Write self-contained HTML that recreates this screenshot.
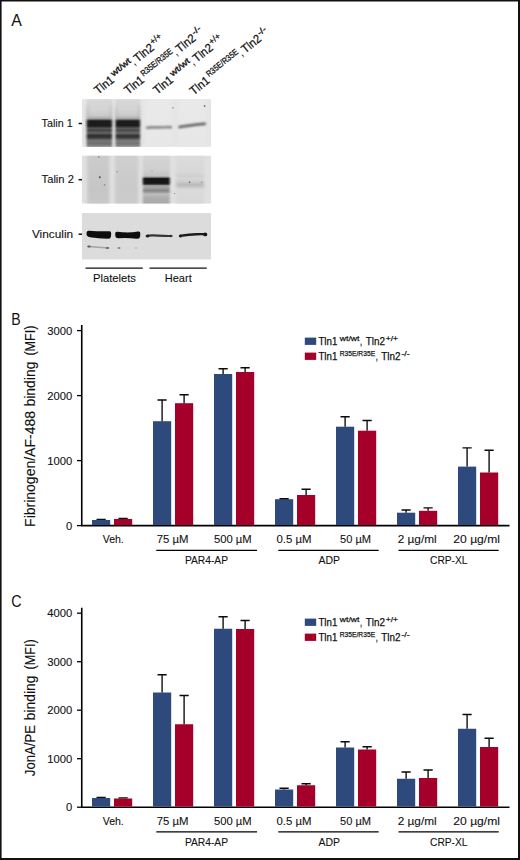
<!DOCTYPE html>
<html><head><meta charset="utf-8"><title>Figure</title>
<style>
html,body{margin:0;padding:0;background:#fff;}
body{width:520px;height:860px;overflow:hidden;font-family:"Liberation Sans",sans-serif;}
svg{display:block;font-family:"Liberation Sans",sans-serif;fill:#111;}
text{stroke:#111;stroke-width:0.1px;}
.rl text{stroke-width:0.25px;}
text.pl{stroke-width:0;}
.rl text.sp{stroke-width:0.3px;}
</style></head><body>
<svg width="520" height="860" viewBox="0 0 520 860">
<rect x="0" y="0" width="520" height="860" fill="#fff"/>
<defs>
<filter id="b1" x="-20%" y="-100%" width="140%" height="300%"><feGaussianBlur stdDeviation="0.9 0.9"/></filter>
<filter id="b2" x="-20%" y="-100%" width="140%" height="300%"><feGaussianBlur stdDeviation="1.4 1.3"/></filter>
<filter id="b3" x="-20%" y="-50%" width="140%" height="200%"><feGaussianBlur stdDeviation="1.6 2.2"/></filter>
<filter id="b07" x="-20%" y="-100%" width="140%" height="300%"><feGaussianBlur stdDeviation="0.7 0.65"/></filter>
<filter id="b05" x="-20%" y="-100%" width="140%" height="300%"><feGaussianBlur stdDeviation="0.6 0.6"/></filter>
<clipPath id="c1"><rect x="82" y="99.2" width="129" height="47.6"/></clipPath>
<clipPath id="c2"><rect x="82" y="155.8" width="129" height="47.6"/></clipPath>
<clipPath id="c3"><rect x="82" y="213" width="129" height="46.4"/></clipPath>
</defs>
<text x="11.2" y="26.1" font-size="17.3" textLength="10.6" lengthAdjust="spacingAndGlyphs" class="pl">A</text>
<g class="rl" transform="translate(98.3 94.8) rotate(-39)">
<text x="0" y="0" font-size="12" textLength="21.4" lengthAdjust="spacingAndGlyphs" >Tln1</text>
<text x="23.2" y="-4.6" font-size="8.6" textLength="23.3" lengthAdjust="spacingAndGlyphs" class="sp">wt/wt</text>
<text x="46.7" y="0" font-size="12" textLength="2.3" lengthAdjust="spacingAndGlyphs" >,</text>
<text x="50.9" y="0" font-size="12" textLength="21.8" lengthAdjust="spacingAndGlyphs" >Tln2</text>
<text x="73.4" y="-4.6" font-size="8.6" textLength="12.5" lengthAdjust="spacingAndGlyphs" class="sp">+/+</text>
</g>
<g class="rl" transform="translate(128.3 94.8) rotate(-39)">
<text x="0" y="0" font-size="12" textLength="21.4" lengthAdjust="spacingAndGlyphs" >Tln1</text>
<text x="23.2" y="-4.6" font-size="8.6" textLength="38.5" lengthAdjust="spacingAndGlyphs" class="sp">R35E/R35E</text>
<text x="61.900000000000006" y="0" font-size="12" textLength="2.3" lengthAdjust="spacingAndGlyphs" >,</text>
<text x="66.10000000000001" y="0" font-size="12" textLength="21.8" lengthAdjust="spacingAndGlyphs" >Tln2</text>
<text x="88.6" y="-4.6" font-size="8.6" textLength="9.5" lengthAdjust="spacingAndGlyphs" class="sp">-/-</text>
</g>
<g class="rl" transform="translate(157.3 94.8) rotate(-39)">
<text x="0" y="0" font-size="12" textLength="21.4" lengthAdjust="spacingAndGlyphs" >Tln1</text>
<text x="23.2" y="-4.6" font-size="8.6" textLength="23.3" lengthAdjust="spacingAndGlyphs" class="sp">wt/wt</text>
<text x="46.7" y="0" font-size="12" textLength="2.3" lengthAdjust="spacingAndGlyphs" >,</text>
<text x="50.9" y="0" font-size="12" textLength="21.8" lengthAdjust="spacingAndGlyphs" >Tln2</text>
<text x="73.4" y="-4.6" font-size="8.6" textLength="12.5" lengthAdjust="spacingAndGlyphs" class="sp">+/+</text>
</g>
<g class="rl" transform="translate(193.8 95.4) rotate(-39)">
<text x="0" y="0" font-size="12" textLength="21.4" lengthAdjust="spacingAndGlyphs" >Tln1</text>
<text x="23.2" y="-4.6" font-size="8.6" textLength="38.5" lengthAdjust="spacingAndGlyphs" class="sp">R35E/R35E</text>
<text x="61.900000000000006" y="0" font-size="12" textLength="2.3" lengthAdjust="spacingAndGlyphs" >,</text>
<text x="66.10000000000001" y="0" font-size="12" textLength="21.8" lengthAdjust="spacingAndGlyphs" >Tln2</text>
<text x="88.6" y="-4.6" font-size="8.6" textLength="9.5" lengthAdjust="spacingAndGlyphs" class="sp">-/-</text>
</g>
<text x="41.6" y="127" font-size="11.8" textLength="31.1" lengthAdjust="spacingAndGlyphs" >Talin 1</text>
<path d="M78.6 123.5 H82.2" stroke="#111" stroke-width="1.5"/>
<text x="41.6" y="183.4" font-size="11.8" textLength="32.3" lengthAdjust="spacingAndGlyphs" >Talin 2</text>
<path d="M78.6 179.7 H82.2" stroke="#111" stroke-width="1.5"/>
<text x="31.9" y="238" font-size="11.8" textLength="41.3" lengthAdjust="spacingAndGlyphs" >Vinculin</text>
<path d="M78.6 234.2 H82.2" stroke="#111" stroke-width="1.5"/>
<defs><filter id="bl" x="-20%" y="-5%" width="140%" height="110%"><feGaussianBlur stdDeviation="1.1 0.75"/></filter><filter id="bl2" x="-20%" y="-5%" width="140%" height="110%"><feGaussianBlur stdDeviation="1.8 0.5"/></filter></defs>
<g clip-path="url(#c1)">
<rect x="82" y="99" width="129" height="48" fill="#e5e5e5"/>
<linearGradient id="g1" gradientUnits="userSpaceOnUse" x1="0" y1="97" x2="0" y2="149"><stop offset="0.0000" stop-color="#d8d8d8"/><stop offset="0.2500" stop-color="#d4d4d4"/><stop offset="0.3654" stop-color="#c8c8c8"/><stop offset="0.4192" stop-color="#a0a0a0"/><stop offset="0.4462" stop-color="#3c3c3c"/><stop offset="0.4692" stop-color="#1a1a1a"/><stop offset="0.5538" stop-color="#1a1a1a"/><stop offset="0.5808" stop-color="#3c3c3c"/><stop offset="0.6038" stop-color="#545454"/><stop offset="0.6231" stop-color="#4c4c4c"/><stop offset="0.6404" stop-color="#444444"/><stop offset="0.6615" stop-color="#505050"/><stop offset="0.6923" stop-color="#646464"/><stop offset="0.7173" stop-color="#484848"/><stop offset="0.7404" stop-color="#323232"/><stop offset="0.7692" stop-color="#303030"/><stop offset="0.7962" stop-color="#4a4a4a"/><stop offset="0.8231" stop-color="#6a6a6a"/><stop offset="0.8558" stop-color="#767676"/><stop offset="0.8904" stop-color="#6e6e6e"/><stop offset="0.9231" stop-color="#7c7c7c"/><stop offset="1.0000" stop-color="#8c8c8c"/></linearGradient>
<rect x="86.6" y="97" width="25.6" height="52" fill="url(#g1)" filter="url(#bl)"/>
<linearGradient id="g2" gradientUnits="userSpaceOnUse" x1="0" y1="97" x2="0" y2="149"><stop offset="0.0000" stop-color="#d8d8d8"/><stop offset="0.2500" stop-color="#d4d4d4"/><stop offset="0.3654" stop-color="#c8c8c8"/><stop offset="0.4192" stop-color="#a0a0a0"/><stop offset="0.4462" stop-color="#414141"/><stop offset="0.4692" stop-color="#1f1f1f"/><stop offset="0.5538" stop-color="#1f1f1f"/><stop offset="0.5808" stop-color="#414141"/><stop offset="0.6038" stop-color="#595959"/><stop offset="0.6231" stop-color="#515151"/><stop offset="0.6404" stop-color="#494949"/><stop offset="0.6615" stop-color="#555555"/><stop offset="0.6923" stop-color="#696969"/><stop offset="0.7173" stop-color="#4d4d4d"/><stop offset="0.7404" stop-color="#373737"/><stop offset="0.7692" stop-color="#353535"/><stop offset="0.7962" stop-color="#4f4f4f"/><stop offset="0.8231" stop-color="#6f6f6f"/><stop offset="0.8558" stop-color="#7b7b7b"/><stop offset="0.8904" stop-color="#737373"/><stop offset="0.9231" stop-color="#818181"/><stop offset="1.0000" stop-color="#919191"/></linearGradient>
<rect x="115.4" y="97" width="24.8" height="52" fill="url(#g2)" filter="url(#bl)"/>
<g filter="url(#b3)" opacity="0.55">
<rect x="86.7" y="106" width="1.6" height="14" fill="#a8a8a8"/>
<rect x="110.2" y="106" width="1.6" height="14" fill="#a8a8a8"/>
<rect x="115.5" y="106" width="1.6" height="14" fill="#a8a8a8"/>
<rect x="138.5" y="106" width="1.6" height="14" fill="#a8a8a8"/>
</g>
<linearGradient id="g3" gradientUnits="userSpaceOnUse" x1="0" y1="97" x2="0" y2="149"><stop offset="0.0000" stop-color="#e9e9e9"/><stop offset="1.0000" stop-color="#e7e7e7"/></linearGradient>
<rect x="145" y="97" width="27" height="52" fill="url(#g3)" filter="url(#bl2)"/>
<linearGradient id="g4" gradientUnits="userSpaceOnUse" x1="0" y1="97" x2="0" y2="149"><stop offset="0.0000" stop-color="#e9e9e9"/><stop offset="1.0000" stop-color="#e7e7e7"/></linearGradient>
<rect x="178" y="97" width="28" height="52" fill="url(#g4)" filter="url(#bl2)"/>
<g filter="url(#b1)">
<path d="M146.2 128 Q147.5 127.2 152 127.3 Q162 127.6 170.5 127 L171.6 127.8" stroke="#747474" stroke-width="2.2" fill="none"/>
<path d="M178.6 127.6 Q180 126.6 184 126.2 Q196 124.6 204.5 123.8 L205.6 124.6" stroke="#5c5c5c" stroke-width="2.5" fill="none"/>
</g>
<g filter="url(#b05)"><circle cx="172.9" cy="107.8" r="0.8" fill="#888"/><circle cx="204.6" cy="106" r="0.9" fill="#777"/></g>
</g>
<g clip-path="url(#c2)">
<rect x="82" y="155" width="129" height="49" fill="#e0e0e0"/>
<linearGradient id="g5" gradientUnits="userSpaceOnUse" x1="0" y1="154" x2="0" y2="205"><stop offset="0.0000" stop-color="#cccccc"/><stop offset="0.4118" stop-color="#c8c8c8"/><stop offset="0.7059" stop-color="#c6c6c6"/><stop offset="1.0000" stop-color="#c8c8c8"/></linearGradient>
<rect x="87.2" y="154" width="22.2" height="51" fill="url(#g5)" filter="url(#bl2)"/>
<linearGradient id="g6" gradientUnits="userSpaceOnUse" x1="0" y1="154" x2="0" y2="205"><stop offset="0.0000" stop-color="#d0d0d0"/><stop offset="0.4118" stop-color="#cbcbcb"/><stop offset="0.7059" stop-color="#cacaca"/><stop offset="1.0000" stop-color="#cccccc"/></linearGradient>
<rect x="115" y="154" width="23.2" height="51" fill="url(#g6)" filter="url(#bl2)"/>
<linearGradient id="g7" gradientUnits="userSpaceOnUse" x1="0" y1="154" x2="0" y2="205"><stop offset="0.0000" stop-color="#d6d6d6"/><stop offset="0.3137" stop-color="#cecece"/><stop offset="0.4216" stop-color="#c4c4c4"/><stop offset="0.4549" stop-color="#969696"/><stop offset="0.4745" stop-color="#222222"/><stop offset="0.4941" stop-color="#121212"/><stop offset="0.5686" stop-color="#121212"/><stop offset="0.5941" stop-color="#3c3c3c"/><stop offset="0.6176" stop-color="#969696"/><stop offset="0.6471" stop-color="#aaaaaa"/><stop offset="0.6863" stop-color="#969696"/><stop offset="0.7157" stop-color="#888888"/><stop offset="0.7451" stop-color="#969696"/><stop offset="0.7843" stop-color="#bebebe"/><stop offset="0.8137" stop-color="#b8b8b8"/><stop offset="0.8627" stop-color="#aeaeae"/><stop offset="1.0000" stop-color="#a8a8a8"/></linearGradient>
<rect x="142.8" y="154" width="27.0" height="51" fill="url(#g7)" filter="url(#bl)"/>
<linearGradient id="g8" gradientUnits="userSpaceOnUse" x1="0" y1="154" x2="0" y2="205"><stop offset="0.0000" stop-color="#dcdcdc"/><stop offset="0.3529" stop-color="#d8d8d8"/><stop offset="0.4314" stop-color="#d0d0d0"/><stop offset="0.4902" stop-color="#d6d6d6"/><stop offset="0.5490" stop-color="#cccccc"/><stop offset="0.6039" stop-color="#bababa"/><stop offset="0.6471" stop-color="#c8c8c8"/><stop offset="0.6961" stop-color="#dadada"/><stop offset="1.0000" stop-color="#d8d8d8"/></linearGradient>
<rect x="176" y="154" width="28.4" height="51" fill="url(#g8)" filter="url(#bl2)"/>
<g filter="url(#b05)">
<circle cx="99.8" cy="177.2" r="1" fill="#505050"/><circle cx="98.8" cy="157" r="0.8" fill="#777"/><circle cx="104.5" cy="184.9" r="0.8" fill="#8a8a8a"/><circle cx="117" cy="171.8" r="0.8" fill="#999"/><circle cx="189.5" cy="182.3" r="0.8" fill="#555"/><circle cx="201.8" cy="182.3" r="0.7" fill="#888"/><circle cx="152" cy="171" r="0.6" fill="#888"/><circle cx="174.5" cy="193.5" r="0.6" fill="#777"/>
</g></g>
<g clip-path="url(#c3)">
<rect x="82" y="212" width="129" height="48" fill="#dcdcdc"/>
<g filter="url(#b07)">
<path d="M86.6 232.5 Q86.6 230.6 89 230.7 Q99 231.4 109 231.2 Q111.3 231 111.2 233.5 L111 236.5 Q110.6 239 108 238.8 Q98 238.4 90 237.2 Q86.8 236.6 86.6 234.5 Z" fill="#0a0a0a"/>
<path d="M115.2 233.5 Q115.2 231.3 117.5 231.7 Q128 233.4 138 231.6 Q140.4 231.2 140.3 233.5 L140.1 236.5 Q139.8 239 137 238.8 Q128 237.6 118.5 238.2 Q115.6 238.3 115.3 236 Z" fill="#0a0a0a"/>
<path d="M146.6 235.9 Q150 235 158 235.6 T171.6 236" stroke="#343434" stroke-width="2.1" fill="none" stroke-linecap="round"/>
<ellipse cx="147.6" cy="235.9" rx="1.6" ry="1.5" fill="#1e1e1e"/>
<ellipse cx="170.8" cy="236" rx="1.2" ry="1.2" fill="#333"/>
<path d="M180 235.9 Q190 234.4 196 234.2 T206 234.2" stroke="#1c1c1c" stroke-width="2.4" fill="none" stroke-linecap="round"/>
<ellipse cx="205.2" cy="234.4" rx="2" ry="1.9" fill="#141414"/>
<ellipse cx="180.6" cy="236" rx="1.4" ry="1.5" fill="#1c1c1c"/>
<path d="M88 246.4 L108.5 248" stroke="#a4a4a4" stroke-width="1.5" fill="none"/>
<ellipse cx="89" cy="246.5" rx="1.8" ry="1" fill="#5a5a5a"/>
<ellipse cx="107.5" cy="248" rx="1.8" ry="1" fill="#6a6a6a"/>
<ellipse cx="119" cy="248" rx="1.6" ry="0.9" fill="#8a8a8a"/>
<ellipse cx="136" cy="248" rx="1.5" ry="0.8" fill="#bababa"/>
</g></g>
<path d="M85.5 268.2 H142.8" stroke="#111" stroke-width="1.3"/>
<path d="M149.5 268.2 H206.7" stroke="#111" stroke-width="1.3"/>
<text x="92.9" y="282.3" font-size="11.8" textLength="43.1" lengthAdjust="spacingAndGlyphs" >Platelets</text>
<text x="164.8" y="282.3" font-size="11.8" textLength="26.9" lengthAdjust="spacingAndGlyphs" >Heart</text>
<g>
<text x="11.2" y="325" font-size="17.3" textLength="9.4" lengthAdjust="spacingAndGlyphs" class="pl">B</text>
<path d="M81.75 325.1 V525.6 H509.5" fill="none" stroke="#000" stroke-width="1.6"/>
<path d="M77 525.6 H81.75" stroke="#000" stroke-width="1.3"/>
<text x="65.95" y="529.8000000000001" font-size="11.8" textLength="6.25" lengthAdjust="spacingAndGlyphs" >0</text>
<path d="M77 460.6 H81.75" stroke="#000" stroke-width="1.3"/>
<text x="47.2" y="464.8" font-size="11.8" textLength="25.0" lengthAdjust="spacingAndGlyphs" >1000</text>
<path d="M77 395.6 H81.75" stroke="#000" stroke-width="1.3"/>
<text x="47.2" y="399.8" font-size="11.8" textLength="25.0" lengthAdjust="spacingAndGlyphs" >2000</text>
<path d="M77 330.6 H81.75" stroke="#000" stroke-width="1.3"/>
<text x="47.2" y="334.8" font-size="11.8" textLength="25.0" lengthAdjust="spacingAndGlyphs" >3000</text>
<g transform="translate(35.2 526.9) rotate(-90)">
<text x="0" y="0" font-size="14.3" textLength="115.9" lengthAdjust="spacingAndGlyphs" >Fibrinogen/AF-488</text>
<text x="120.4" y="0" font-size="14.3" textLength="45.0" lengthAdjust="spacingAndGlyphs" >binding</text>
<text x="171.3" y="0" font-size="14.3" textLength="30.1" lengthAdjust="spacingAndGlyphs" >(MFI)</text>
</g>
<rect x="92" y="520.0" width="18.2" height="5.0" fill="#2e4a7d"/>
<path d="M101.1 520.0 V519.3000000000001 M96.5 519.3000000000001 H105.69999999999999" stroke="#0a0a0a" stroke-width="1.35" fill="none"/>
<rect x="114" y="519.0" width="18.2" height="6.0" fill="#a50029"/>
<path d="M123.1 519.0 V518.3000000000001 M118.5 518.3000000000001 H127.69999999999999" stroke="#0a0a0a" stroke-width="1.35" fill="none"/>
<rect x="153" y="421.20000000000005" width="18.2" height="103.80000000000001" fill="#2e4a7d"/>
<path d="M162.1 421.20000000000005 V400.0 M157.5 400.0 H166.7" stroke="#0a0a0a" stroke-width="1.35" fill="none"/>
<rect x="175" y="403.20000000000005" width="18.2" height="121.80000000000001" fill="#a50029"/>
<path d="M184.1 403.20000000000005 V394.70000000000005 M179.5 394.70000000000005 H188.7" stroke="#0a0a0a" stroke-width="1.35" fill="none"/>
<rect x="214" y="374.0" width="18.2" height="151.0" fill="#2e4a7d"/>
<path d="M223.1 374.0 V368.70000000000005 M218.5 368.70000000000005 H227.7" stroke="#0a0a0a" stroke-width="1.35" fill="none"/>
<rect x="236" y="372.0" width="18.2" height="153.0" fill="#a50029"/>
<path d="M245.1 372.0 V367.70000000000005 M240.5 367.70000000000005 H249.7" stroke="#0a0a0a" stroke-width="1.35" fill="none"/>
<rect x="275" y="499.20000000000005" width="18.2" height="25.799999999999997" fill="#2e4a7d"/>
<path d="M284.1 499.20000000000005 V498.70000000000005 M279.5 498.70000000000005 H288.70000000000005" stroke="#0a0a0a" stroke-width="1.35" fill="none"/>
<rect x="297" y="495.0" width="18.2" height="30.0" fill="#a50029"/>
<path d="M306.1 495.0 V489.20000000000005 M301.5 489.20000000000005 H310.70000000000005" stroke="#0a0a0a" stroke-width="1.35" fill="none"/>
<rect x="336" y="426.70000000000005" width="18.2" height="98.30000000000001" fill="#2e4a7d"/>
<path d="M345.1 426.70000000000005 V416.70000000000005 M340.5 416.70000000000005 H349.70000000000005" stroke="#0a0a0a" stroke-width="1.35" fill="none"/>
<rect x="358" y="430.70000000000005" width="18.2" height="94.30000000000001" fill="#a50029"/>
<path d="M367.1 430.70000000000005 V420.5 M362.5 420.5 H371.70000000000005" stroke="#0a0a0a" stroke-width="1.35" fill="none"/>
<rect x="397" y="512.7" width="18.2" height="12.3" fill="#2e4a7d"/>
<path d="M406.1 512.7 V510.0 M401.5 510.0 H410.70000000000005" stroke="#0a0a0a" stroke-width="1.35" fill="none"/>
<rect x="419" y="510.8" width="18.2" height="14.200000000000001" fill="#a50029"/>
<path d="M428.1 510.8 V507.8 M423.5 507.8 H432.70000000000005" stroke="#0a0a0a" stroke-width="1.35" fill="none"/>
<rect x="458" y="466.6" width="18.2" height="58.4" fill="#2e4a7d"/>
<path d="M467.1 466.6 V447.8 M462.5 447.8 H471.70000000000005" stroke="#0a0a0a" stroke-width="1.35" fill="none"/>
<rect x="480" y="472.5" width="18.2" height="52.5" fill="#a50029"/>
<path d="M489.1 472.5 V450.20000000000005 M484.5 450.20000000000005 H493.70000000000005" stroke="#0a0a0a" stroke-width="1.35" fill="none"/>
<text x="102.7" y="543.1" font-size="11.8" textLength="21.1" lengthAdjust="spacingAndGlyphs" >Veh.</text>
<text x="156.7" y="543.1" font-size="11.8" textLength="31.8" lengthAdjust="spacingAndGlyphs" >75 µM</text>
<text x="214" y="543.1" font-size="11.8" textLength="37.7" lengthAdjust="spacingAndGlyphs" >500 µM</text>
<text x="276.5" y="543.1" font-size="11.8" textLength="35.0" lengthAdjust="spacingAndGlyphs" >0.5 µM</text>
<text x="340" y="543.1" font-size="11.8" textLength="31" lengthAdjust="spacingAndGlyphs" >50 µM</text>
<text x="397.7" y="543.1" font-size="11.8" textLength="39.0" lengthAdjust="spacingAndGlyphs" >2 µg/ml</text>
<text x="453.3" y="543.1" font-size="11.8" textLength="46.7" lengthAdjust="spacingAndGlyphs" >20 µg/ml</text>
<path d="M156.3 550.3000000000001 H257" stroke="#000" stroke-width="1.2"/>
<text x="184.9" y="564.1" font-size="11.8" textLength="43.1" lengthAdjust="spacingAndGlyphs" >PAR4-AP</text>
<path d="M278.3 550.3000000000001 H378.7" stroke="#000" stroke-width="1.2"/>
<text x="318.5" y="564.1" font-size="11.8" textLength="21.5" lengthAdjust="spacingAndGlyphs" >ADP</text>
<path d="M398.5 550.3000000000001 H498.7" stroke="#000" stroke-width="1.2"/>
<text x="430" y="564.1" font-size="11.8" textLength="37.5" lengthAdjust="spacingAndGlyphs" >CRP-XL</text>
<rect x="304.8" y="337.6" width="11.4" height="7.3" fill="#2e4a7d"/>
<rect x="304.8" y="352.6" width="11.4" height="7.3" fill="#a50029"/>
<g class="rl">
<text x="318.4" y="345.1" font-size="10.6" textLength="19" lengthAdjust="spacingAndGlyphs" >Tln1</text>
<text x="339.8" y="341.0" font-size="8" textLength="19.7" lengthAdjust="spacingAndGlyphs" >wt/wt</text>
<text x="360.1" y="345.1" font-size="10.6" textLength="2.1" lengthAdjust="spacingAndGlyphs" >,</text>
<text x="365.7" y="345.1" font-size="10.6" textLength="19.2" lengthAdjust="spacingAndGlyphs" >Tln2</text>
<text x="385.8" y="341.0" font-size="8" textLength="12.2" lengthAdjust="spacingAndGlyphs" >+/+</text>
</g>
<g class="rl">
<text x="318.4" y="360.1" font-size="10.6" textLength="19" lengthAdjust="spacingAndGlyphs" >Tln1</text>
<text x="339.8" y="356.0" font-size="8" textLength="35.3" lengthAdjust="spacingAndGlyphs" >R35E/R35E</text>
<text x="375.70000000000005" y="360.1" font-size="10.6" textLength="2.1" lengthAdjust="spacingAndGlyphs" >,</text>
<text x="381.3" y="360.1" font-size="10.6" textLength="19.2" lengthAdjust="spacingAndGlyphs" >Tln2</text>
<text x="401.40000000000003" y="356.0" font-size="8" textLength="8.2" lengthAdjust="spacingAndGlyphs" >-/-</text>
</g>
</g>
<g>
<text x="11.2" y="607" font-size="17.3" textLength="10.3" lengthAdjust="spacingAndGlyphs" class="pl">C</text>
<path d="M81.75 607.7 V807.2 H509.5" fill="none" stroke="#000" stroke-width="1.6"/>
<path d="M77 807.2 H81.75" stroke="#000" stroke-width="1.3"/>
<text x="65.95" y="811.4000000000001" font-size="11.8" textLength="6.25" lengthAdjust="spacingAndGlyphs" >0</text>
<path d="M77 758.7 H81.75" stroke="#000" stroke-width="1.3"/>
<text x="47.2" y="762.9000000000001" font-size="11.8" textLength="25.0" lengthAdjust="spacingAndGlyphs" >1000</text>
<path d="M77 710.2 H81.75" stroke="#000" stroke-width="1.3"/>
<text x="47.2" y="714.4000000000001" font-size="11.8" textLength="25.0" lengthAdjust="spacingAndGlyphs" >2000</text>
<path d="M77 661.7 H81.75" stroke="#000" stroke-width="1.3"/>
<text x="47.2" y="665.9000000000001" font-size="11.8" textLength="25.0" lengthAdjust="spacingAndGlyphs" >3000</text>
<path d="M77 613.2 H81.75" stroke="#000" stroke-width="1.3"/>
<text x="47.2" y="617.4000000000001" font-size="11.8" textLength="25.0" lengthAdjust="spacingAndGlyphs" >4000</text>
<g transform="translate(35.2 776.2) rotate(-90)">
<text x="0" y="0" font-size="14.3" textLength="51.3" lengthAdjust="spacingAndGlyphs" >JonA/PE</text>
<text x="55.8" y="0" font-size="14.3" textLength="45.0" lengthAdjust="spacingAndGlyphs" >binding</text>
<text x="106.7" y="0" font-size="14.3" textLength="30.1" lengthAdjust="spacingAndGlyphs" >(MFI)</text>
</g>
<rect x="92" y="798.0" width="18.2" height="8.6" fill="#2e4a7d"/>
<path d="M101.1 798.0 V797.3000000000001 M96.5 797.3000000000001 H105.69999999999999" stroke="#0a0a0a" stroke-width="1.35" fill="none"/>
<rect x="114" y="798.5" width="18.2" height="8.1" fill="#a50029"/>
<path d="M123.1 798.5 V797.8000000000001 M118.5 797.8000000000001 H127.69999999999999" stroke="#0a0a0a" stroke-width="1.35" fill="none"/>
<rect x="153" y="692.5" width="18.2" height="114.10000000000001" fill="#2e4a7d"/>
<path d="M162.1 692.5 V674.75 M157.5 674.75 H166.7" stroke="#0a0a0a" stroke-width="1.35" fill="none"/>
<rect x="175" y="724.25" width="18.2" height="82.35000000000001" fill="#a50029"/>
<path d="M184.1 724.25 V695.5 M179.5 695.5 H188.7" stroke="#0a0a0a" stroke-width="1.35" fill="none"/>
<rect x="214" y="628.75" width="18.2" height="177.85" fill="#2e4a7d"/>
<path d="M223.1 628.75 V616.75 M218.5 616.75 H227.7" stroke="#0a0a0a" stroke-width="1.35" fill="none"/>
<rect x="236" y="629.0" width="18.2" height="177.6" fill="#a50029"/>
<path d="M245.1 629.0 V620.5 M240.5 620.5 H249.7" stroke="#0a0a0a" stroke-width="1.35" fill="none"/>
<rect x="275" y="789.5" width="18.2" height="17.099999999999998" fill="#2e4a7d"/>
<path d="M284.1 789.5 V788.25 M279.5 788.25 H288.70000000000005" stroke="#0a0a0a" stroke-width="1.35" fill="none"/>
<rect x="297" y="785.25" width="18.2" height="21.349999999999998" fill="#a50029"/>
<path d="M306.1 785.25 V783.75 M301.5 783.75 H310.70000000000005" stroke="#0a0a0a" stroke-width="1.35" fill="none"/>
<rect x="336" y="747.5" width="18.2" height="59.1" fill="#2e4a7d"/>
<path d="M345.1 747.5 V741.75 M340.5 741.75 H349.70000000000005" stroke="#0a0a0a" stroke-width="1.35" fill="none"/>
<rect x="358" y="749.5" width="18.2" height="57.1" fill="#a50029"/>
<path d="M367.1 749.5 V746.75 M362.5 746.75 H371.70000000000005" stroke="#0a0a0a" stroke-width="1.35" fill="none"/>
<rect x="397" y="778.75" width="18.2" height="27.849999999999998" fill="#2e4a7d"/>
<path d="M406.1 778.75 V772.0 M401.5 772.0 H410.70000000000005" stroke="#0a0a0a" stroke-width="1.35" fill="none"/>
<rect x="419" y="778.0" width="18.2" height="28.599999999999998" fill="#a50029"/>
<path d="M428.1 778.0 V770.0 M423.5 770.0 H432.70000000000005" stroke="#0a0a0a" stroke-width="1.35" fill="none"/>
<rect x="458" y="728.75" width="18.2" height="77.85000000000001" fill="#2e4a7d"/>
<path d="M467.1 728.75 V714.5 M462.5 714.5 H471.70000000000005" stroke="#0a0a0a" stroke-width="1.35" fill="none"/>
<rect x="480" y="747.0" width="18.2" height="59.6" fill="#a50029"/>
<path d="M489.1 747.0 V738.25 M484.5 738.25 H493.70000000000005" stroke="#0a0a0a" stroke-width="1.35" fill="none"/>
<text x="102.7" y="824.7" font-size="11.8" textLength="21.1" lengthAdjust="spacingAndGlyphs" >Veh.</text>
<text x="156.7" y="824.7" font-size="11.8" textLength="31.8" lengthAdjust="spacingAndGlyphs" >75 µM</text>
<text x="214" y="824.7" font-size="11.8" textLength="37.7" lengthAdjust="spacingAndGlyphs" >500 µM</text>
<text x="276.5" y="824.7" font-size="11.8" textLength="35.0" lengthAdjust="spacingAndGlyphs" >0.5 µM</text>
<text x="340" y="824.7" font-size="11.8" textLength="31" lengthAdjust="spacingAndGlyphs" >50 µM</text>
<text x="397.7" y="824.7" font-size="11.8" textLength="39.0" lengthAdjust="spacingAndGlyphs" >2 µg/ml</text>
<text x="453.3" y="824.7" font-size="11.8" textLength="46.7" lengthAdjust="spacingAndGlyphs" >20 µg/ml</text>
<path d="M156.3 831.9000000000001 H257" stroke="#000" stroke-width="1.2"/>
<text x="184.9" y="845.7" font-size="11.8" textLength="43.1" lengthAdjust="spacingAndGlyphs" >PAR4-AP</text>
<path d="M278.3 831.9000000000001 H378.7" stroke="#000" stroke-width="1.2"/>
<text x="318.5" y="845.7" font-size="11.8" textLength="21.5" lengthAdjust="spacingAndGlyphs" >ADP</text>
<path d="M398.5 831.9000000000001 H498.7" stroke="#000" stroke-width="1.2"/>
<text x="430" y="845.7" font-size="11.8" textLength="37.5" lengthAdjust="spacingAndGlyphs" >CRP-XL</text>
<rect x="304.8" y="618.6" width="11.4" height="7.3" fill="#2e4a7d"/>
<rect x="304.8" y="633.6" width="11.4" height="7.3" fill="#a50029"/>
<g class="rl">
<text x="318.4" y="626.1" font-size="10.6" textLength="19" lengthAdjust="spacingAndGlyphs" >Tln1</text>
<text x="339.8" y="622.0" font-size="8" textLength="19.7" lengthAdjust="spacingAndGlyphs" >wt/wt</text>
<text x="360.1" y="626.1" font-size="10.6" textLength="2.1" lengthAdjust="spacingAndGlyphs" >,</text>
<text x="365.7" y="626.1" font-size="10.6" textLength="19.2" lengthAdjust="spacingAndGlyphs" >Tln2</text>
<text x="385.8" y="622.0" font-size="8" textLength="12.2" lengthAdjust="spacingAndGlyphs" >+/+</text>
</g>
<g class="rl">
<text x="318.4" y="641.1" font-size="10.6" textLength="19" lengthAdjust="spacingAndGlyphs" >Tln1</text>
<text x="339.8" y="637.0" font-size="8" textLength="35.3" lengthAdjust="spacingAndGlyphs" >R35E/R35E</text>
<text x="375.70000000000005" y="641.1" font-size="10.6" textLength="2.1" lengthAdjust="spacingAndGlyphs" >,</text>
<text x="381.3" y="641.1" font-size="10.6" textLength="19.2" lengthAdjust="spacingAndGlyphs" >Tln2</text>
<text x="401.40000000000003" y="637.0" font-size="8" textLength="8.2" lengthAdjust="spacingAndGlyphs" >-/-</text>
</g>
</g>
<path d="M0.8 0 V860" stroke="#111" stroke-width="1.6"/>
<path d="M0 0.8 H520" stroke="#111" stroke-width="1.6"/>
<path d="M519 0 V860" stroke="#111" stroke-width="2"/>
<path d="M0 859 H520" stroke="#111" stroke-width="2"/>
</svg>
</body></html>
